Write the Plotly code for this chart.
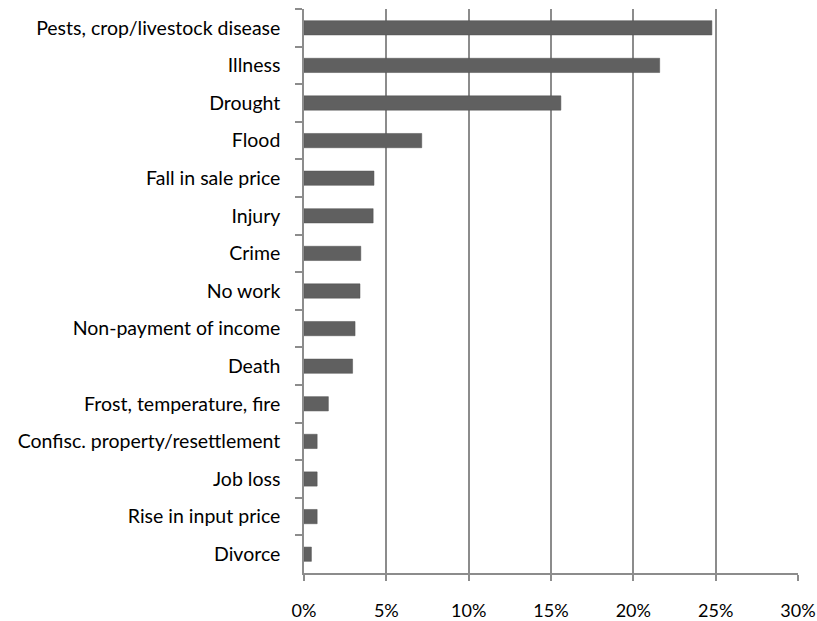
import plotly.graph_objects as go

categories = ["Pests, crop/livestock disease", "Illness", "Drought", "Flood",
              "Fall in sale price", "Injury", "Crime", "No work",
              "Non-payment of income", "Death", "Frost, temperature, fire",
              "Confisc. property/resettlement", "Job loss", "Rise in input price", "Divorce"]
values = [24.77, 21.6, 15.6, 7.15, 4.25, 4.2, 3.45, 3.4, 3.1, 2.95, 1.48, 0.8, 0.8, 0.8, 0.45]
x_ticks = [0, 5, 10, 15, 20, 25, 30]
x_ticklabels = ["0%", "5%", "10%", "15%", "20%", "25%", "30%"]

fig = go.Figure(go.Bar(
    y=categories, x=values, orientation="h",
    marker=dict(color="#606060", line=dict(color="#505050", width=0.5)),
    width=0.38,
))

font = dict(family="Lato, Open Sans, sans-serif", size=19.5, color="#000000")
xfont = dict(family="Lato, Open Sans, sans-serif", size=18, color="#000000")
fig.update_layout(
    width=817, height=621,
    margin=dict(l=304, r=19, t=9, b=48),
    plot_bgcolor="white", paper_bgcolor="white",
    showlegend=False,
    font=font,
    bargap=0.6,
)
fig.update_xaxes(
    range=[0, 30], tickvals=x_ticks, ticktext=x_ticklabels,
    showgrid=True, gridcolor="#8c8c8c", gridwidth=1.5,
    showline=True, linecolor="#8c8c8c", linewidth=1.5,
    ticks="outside", ticklen=6, tickcolor="#8c8c8c", tickwidth=1.5,
    ticklabelstandoff=15, zeroline=False, tickfont=xfont, automargin=False,
)
fig.update_yaxes(
    categoryorder="array", categoryarray=categories, autorange="reversed",
    showline=True, linecolor="#8c8c8c", linewidth=1.5,
    ticks="outside", ticklen=7, tickcolor="#8c8c8c", tickwidth=1.5,
    tickson="boundaries", showgrid=False, ticklabelstandoff=18, tickfont=font,
    automargin=False,
)
fig.write_html("out.html")
